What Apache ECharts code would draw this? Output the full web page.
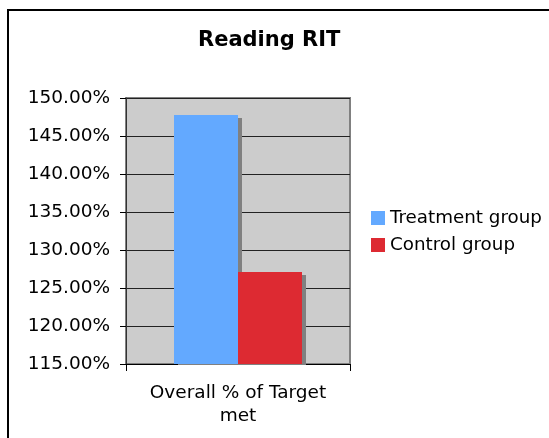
<!DOCTYPE html>
<html>
<head>
<meta charset="utf-8">
<script src="https://cdn.jsdelivr.net/npm/echarts@6/dist/echarts.min.js"></script>
<style>
  html, body { margin: 0; padding: 0; background: #ffffff; }
  #chart { width: 549px; height: 438px; }
</style>
</head>
<body>
<div id="chart"></div>
<script>
const titleText = 'Reading RIT';
const categories = ['Overall % of Target\nmet'];
const seriesNames = ['Treatment group', 'Control group'];
const treatmentValues = [147.75];
const controlValues = [127.1];
const seriesColors = ['#63a9ff', '#dd2a32'];
const yMin = 115, yMax = 150, yStep = 5;

const FONT = 'DejaVu Sans, Verdana, sans-serif';
const chart = echarts.init(document.getElementById('chart'), null, { renderer: 'canvas' });

const shadow = { shadowColor: '#808080', shadowBlur: 0, shadowOffsetX: 4, shadowOffsetY: 3 };

chart.setOption({
  backgroundColor: '#ffffff',
  animation: false,
  title: {
    text: titleText,
    left: 198,
    top: 30,
    padding: 0,
    textStyle: { fontFamily: FONT, fontSize: 21, fontWeight: 'bold', color: '#000' }
  },
  legend: {
    orient: 'vertical',
    left: 371,
    top: 209,
    padding: 0,
    itemWidth: 14,
    itemHeight: 14,
    itemGap: 9,
    icon: 'rect',
    data: seriesNames,
    textStyle: { fontFamily: FONT, fontSize: 18.3, color: '#000' }
  },
  graphic: [{
    type: 'rect',
    shape: { x: 8, y: 10, width: 600, height: 500 },
    style: { fill: 'none', stroke: '#000', lineWidth: 2 },
    silent: true
  }, {
    type: 'rect',
    z: 10,
    shape: { x: 170, y: 365, width: 140, height: 5 },
    style: { fill: '#ffffff' },
    silent: true
  }],
  grid: {
    left: 126, top: 98, width: 224, height: 266,
    show: true, backgroundColor: '#cccccc', borderColor: '#808080', borderWidth: 2
  },
  xAxis: {
    type: 'category',
    data: categories,
    axisLine: { lineStyle: { color: '#000', width: 1 } },
    axisTick: { show: true, length: 7, lineStyle: { color: '#000' } },
    axisLabel: { fontFamily: FONT, fontSize: 18.5, color: '#000', margin: 18, lineHeight: 23, align: 'center' }
  },
  yAxis: {
    type: 'value',
    min: yMin, max: yMax, interval: yStep,
    axisLine: { show: true, lineStyle: { color: '#333', width: 1 } },
    axisTick: { show: true, length: 6, lineStyle: { color: '#000' } },
    axisLabel: {
      fontFamily: FONT, fontSize: 18.5, color: '#000', margin: 16,
      formatter: v => v.toFixed(2) + '%'
    },
    splitLine: { show: true, lineStyle: { color: '#222', width: 1 } }
  },
  series: [
    {
      name: seriesNames[0], type: 'bar', data: treatmentValues,
      barGap: '0%', barCategoryGap: '42.86%',
      itemStyle: Object.assign({ color: seriesColors[0] }, shadow)
    },
    {
      name: seriesNames[1], type: 'bar', data: controlValues,
      barGap: '0%', barCategoryGap: '42.86%',
      itemStyle: Object.assign({ color: seriesColors[1] }, shadow)
    }
  ]
});
</script>
</body>
</html>
